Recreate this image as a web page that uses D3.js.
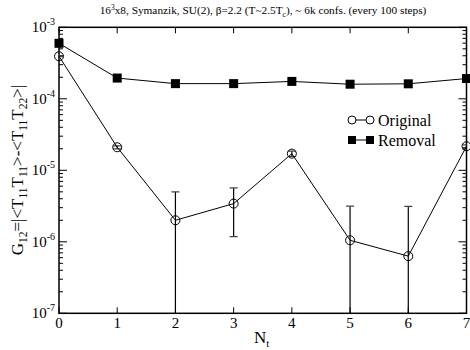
<!DOCTYPE html>
<html><head><meta charset="utf-8">
<script src="https://cdn.jsdelivr.net/npm/d3@7"></script>
<style>body{margin:0;background:#fff}svg{display:block}text{font-family:"Liberation Serif","Times New Roman",serif;fill:#000}</style>
</head><body><svg id="c" width="470" height="350"></svg>
<script>
const nt = [0,1,2,3,4,5,6,7];
const original = [3.93e-4, 2.1e-5, 2.0e-6, 3.42e-6, 1.71e-5, 1.05e-6, 6.3e-7, 2.17e-5];
const originalErr = [5e-6, 1.0e-6, 3.0e-6, 2.24e-6, 1.5e-6, 2.1e-6, 2.5e-6, 1.0e-6];
const removal = [5.97e-4, 1.95e-4, 1.63e-4, 1.63e-4, 1.75e-4, 1.6e-4, 1.62e-4, 1.92e-4];
const yTickExp = [-3,-4,-5,-6,-7];
const xTicks = [0,1,2,3,4,5,6,7];

const svg = d3.select("#c");
const L=59, R=466.5, T=27.3, B=313.3;
const x = d3.scaleLinear().domain([0,7]).range([L,R]);
const y = d3.scaleLog().domain([1e-7,1e-3]).range([B,T]);

svg.append("defs").append("clipPath").attr("id","clip")
  .append("rect").attr("x",L).attr("y",T).attr("width",R-L).attr("height",B-T);

// title
const title = svg.append("text").attr("x",263).attr("y",14).attr("text-anchor","middle").style("font-size","11.3px");
title.append("tspan").text("16");
title.append("tspan").attr("dy",-4).style("font-size","7.5px").text("3");
title.append("tspan").attr("dy",4).text("x8, Symanzik, SU(2), β=2.2 (T~2.5T");
title.append("tspan").attr("dy",3).style("font-size","7.5px").text("c");
title.append("tspan").attr("dy",-3).text("), ~ 6k confs. (every 100 steps)");

// frame
svg.append("rect").attr("x",L).attr("y",T).attr("width",R-L).attr("height",B-T)
  .attr("fill","none").attr("stroke","#000").attr("stroke-width",1.5);

// ticks
const majLen=8, minLen=4;
const g = svg.append("g").attr("stroke","#000").attr("stroke-width",1);
yTickExp.forEach(e=>{
  const v=Math.pow(10,e);
  g.append("line").attr("x1",L).attr("x2",L+majLen).attr("y1",y(v)).attr("y2",y(v));
  g.append("line").attr("x1",R).attr("x2",R-majLen).attr("y1",y(v)).attr("y2",y(v));
});
yTickExp.slice(1).forEach(e=>{
  for(let k=2;k<=9;k++){
    const v=k*Math.pow(10,e);
    g.append("line").attr("x1",L).attr("x2",L+minLen).attr("y1",y(v)).attr("y2",y(v));
    g.append("line").attr("x1",R).attr("x2",R-minLen).attr("y1",y(v)).attr("y2",y(v));
  }
});
xTicks.forEach(t=>{
  g.append("line").attr("x1",x(t)).attr("x2",x(t)).attr("y1",B).attr("y2",B-6);
  g.append("line").attr("x1",x(t)).attr("x2",x(t)).attr("y1",T).attr("y2",T+6);
});

// y tick labels
yTickExp.forEach(e=>{
  const t = svg.append("text").attr("x",55).attr("y",y(Math.pow(10,e))+5).attr("text-anchor","end").style("font-size","15px");
  t.append("tspan").text("10");
  t.append("tspan").attr("dy",-7).style("font-size","10px").text(String(e));
});
// x tick labels
xTicks.forEach(t=>{
  svg.append("text").attr("x",x(t)).attr("y",B+15).attr("text-anchor","middle").style("font-size","15px").text(t);
});

// x label
const xl = svg.append("text").attr("x",254).attr("y",343).style("font-size","17px");
xl.append("tspan").text("N");
xl.append("tspan").attr("dy",4).style("font-size","11px").text("t");

// y label
const yl = svg.append("text").attr("transform",`translate(23,170) rotate(-90)`).attr("text-anchor","middle").style("font-size","17px");
const sub = (s)=>{ yl.append("tspan").attr("dy",4).style("font-size","11.5px").text(s); };
const main = (s,first)=>{ yl.append("tspan").attr("dy",first?0:-4).text(s); };
main("G",true); sub("12"); main("=|<T"); sub("11"); main("T"); sub("11"); main(">-<T"); sub("11"); main("T"); sub("22"); main(">|");

const plot = svg.append("g").attr("clip-path","url(#clip)");
const line = d3.line().x(d=>x(d[0])).y(d=>y(d[1]));

// error bars
nt.forEach((n,i)=>{
  const hi = original[i]+originalErr[i];
  const lo = original[i]-originalErr[i];
  const yhi = y(hi), ylo = lo>0 ? y(lo) : B+20;
  plot.append("line").attr("x1",x(n)).attr("x2",x(n)).attr("y1",yhi).attr("y2",ylo).attr("stroke","#000").attr("stroke-width",1.2);
  plot.append("line").attr("x1",x(n)-4).attr("x2",x(n)+4).attr("y1",yhi).attr("y2",yhi).attr("stroke","#444").attr("stroke-width",1.2);
  if(lo>0) plot.append("line").attr("x1",x(n)-4).attr("x2",x(n)+4).attr("y1",ylo).attr("y2",ylo).attr("stroke","#444").attr("stroke-width",1.2);
});

const origPts = nt.map((n,i)=>[n,original[i]]);
const remPts = nt.map((n,i)=>[n,removal[i]]);
svg.append("path").attr("d",line(origPts)).attr("fill","none").attr("stroke","#000").attr("stroke-width",1);
svg.append("path").attr("d",line(remPts)).attr("fill","none").attr("stroke","#000").attr("stroke-width",1);

svg.selectAll(".oc").data(origPts).enter().append("circle")
  .attr("cx",d=>x(d[0])).attr("cy",d=>y(d[1])).attr("r",4.5)
  .attr("fill","none").attr("stroke","#000").attr("stroke-width",1);
svg.selectAll(".rs").data(remPts).enter().append("rect")
  .attr("x",d=>x(d[0])-4.5).attr("y",d=>y(d[1])-4.5).attr("width",9).attr("height",9).attr("fill","#000");

// legend
const lg = svg.append("g");
lg.append("line").attr("x1",352).attr("x2",370).attr("y1",120).attr("y2",120).attr("stroke","#000");
lg.append("circle").attr("cx",352).attr("cy",120).attr("r",4).attr("fill","#fff").attr("stroke","#000");
lg.append("circle").attr("cx",370).attr("cy",120).attr("r",4).attr("fill","#fff").attr("stroke","#000");
lg.append("text").attr("x",378).attr("y",125.5).style("font-size","16px").text("Original");
lg.append("line").attr("x1",352).attr("x2",370).attr("y1",140).attr("y2",140).attr("stroke","#000");
lg.append("rect").attr("x",348).attr("y",136).attr("width",8).attr("height",8).attr("fill","#000");
lg.append("rect").attr("x",366).attr("y",136).attr("width",8).attr("height",8).attr("fill","#000");
lg.append("text").attr("x",378).attr("y",145.5).style("font-size","16px").text("Removal");
</script></body></html>
